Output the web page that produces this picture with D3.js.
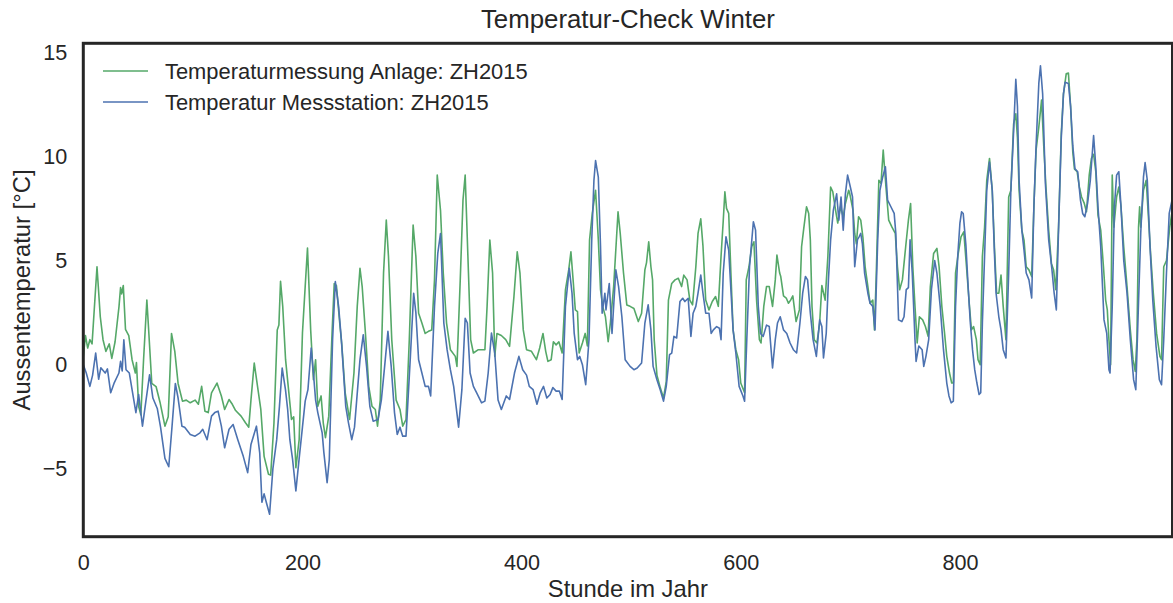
<!DOCTYPE html>
<html>
<head>
<meta charset="utf-8">
<script src="https://cdn.jsdelivr.net/npm/d3@7"></script>
<style>
  body { margin: 0; background: #fff; }
  svg { display: block; font-family: "Liberation Sans", Arial, sans-serif; }
  .tick text { fill: #262626; font-size: 21.6px; }
</style>
</head>
<body>
<svg id="chart" width="1173" height="603"></svg>
<script>
// values (hours, degrees C)
const anlageStunde = [0,2,4,6,8,12.5,15.5,18,20.6,23.7,26,29,32.6,34,35,36.5,38.5,41.5,44.5,47.5,48.5,50.5,52.5,55,58,59.5,62.5,66.4,70,74.5,77.5,80.5,83.5,86.5,90.5,94,97.6,102,105,108,111,114,117,122,126,129,133,136,139,144,148,151,153,156,159,162,165,169,171,174,177,178.5,180,182,184.6,187.6,190,192,194,197,200,202.5,204.6,207.5,210,212,214,217,219,221,224,227,229,231,234,236,239,243,247,250,252.5,254.5,257.5,260.5,263.5,266.5,268.5,271,274,276.5,278.5,281.5,285.5,289,291.5,294.5,297.5,301,303.5,306,309,312,315,318,320.5,323,326,328.5,331.5,335,339.5,341,344,346.5,348.5,351.5,353.5,356,360.5,366.5,368.5,371,373.5,375.5,377.5,381.5,385.5,389,393,396,398.5,401.5,404.5,409,413.5,416.5,419.5,422,424,427,429,431.5,434,437,440,443,445,447,449,451,452.5,455.5,458,460,462,464.5,467.5,470,472,474,476.5,479,481,484,488,490,493,496,499,502.5,506.5,509.5,512.5,514,516,518,519.5,521,523.5,526.5,529.5,532,534,537,540,543,546,548,551,553.5,556,559,561,563.5,565.5,568,571,574,577,579.5,582,584,585.5,587,589,591,593,595.5,598,600,603.5,605,607.5,610,612,614.5,617,618.5,621,623.5,626,629,631.5,633,635.5,636.5,639,641.5,643.5,645.5,647.5,650.5,653.5,655.5,657.5,660,662,663.5,665,667,669.5,672,674,677,679.5,682,684,686.5,688.5,691,693.5,695.5,698.5,699.5,702.5,704,705.5,707.5,709.5,711.5,713.5,716,718,720.5,722,723.5,726,728,730,732.5,735,738,741,743,745,747.5,750.5,753,755,757,759,761,763,766,768.5,771,773,776,779,781,783.5,786,788,790.5,792.5,794,796,798.5,801,803.5,806,808.5,810.5,812.5,815,816.5,818.5,820.5,822.5,824.5,827,829.5,831.5,833.5,835.5,837.5,839.5,842,844.5,846.5,849,851,852.5,854,856.5,858.5,860.5,863,865.5,867.5,869.5,872,874.5,876.5,878.5,881,883.5,885.5,887.5,890,892.5,894.5,897,899,901,903,904.5,907,909,911,913.5,915.5,918,920,922,924,926,928.5,931,933,934.5,936,937.5,939,940.5,943,945,947,949.5,952.5,955.5,958,960,961.5,963,964,965,967.5,970,972,974,976.5,979.5,982.5,984,986,988.5,991.5,994];
const anlageTemp = [0.4,1.4,0.8,1.2,1.0,4.7,2.3,1.2,0.64,1.0,0.3,1.1,2.8,3.7,3.4,3.8,1.7,1.4,0.24,-0.4,0.1,-2.0,-2.4,0.24,3.1,1.8,-0.9,-1.05,-1.8,-2.95,-2.5,1.5,0.64,-0.9,-1.75,-1.7,-1.83,-1.7,-1.9,-1.04,-2.23,-2.3,-1.35,-0.88,-1.5,-2.15,-1.67,-1.9,-2.2,-2.47,-2.79,-3.0,-1.7,0.08,-1.04,-2.15,-4.4,-5.26,-5.3,-2.8,1.67,1.9,4.0,2.8,0.24,-1.35,-2.63,-2.5,-4.95,-3.6,1.52,3.75,5.6,1.67,-0.72,0.24,-2.0,-1.5,-2.8,-3.5,-2.47,1.5,3.9,3.8,2.0,0.9,-1.35,-2.63,-0.4,2.8,4.63,3.75,1.5,-1.04,-2.0,-2.15,-2.95,-1.7,4.4,6.94,5.2,1.2,-1.7,-2.15,-2.95,-2.63,1.2,6.7,5.2,2.47,2.0,1.5,1.6,1.67,4.07,9.1,7.4,4.4,2.0,0.72,0.4,-0.08,4.07,7.9,9.1,4.4,1.2,0.56,0.72,0.72,2.8,5.98,4.4,0.4,1.5,1.4,1.2,0.88,3.27,5.42,4.4,1.67,0.72,0.64,0.24,0.8,1.5,0.64,0.16,0.24,1.1,0.95,1.1,0.56,3.59,4.55,5.42,4.07,2.63,2.55,0.56,1.04,1.5,0.9,5.98,7.26,8.37,6.0,3.6,2.8,2.3,1.1,2.0,3.75,7.34,6.3,4.4,2.87,2.8,2.7,2.07,2.47,4.55,4.9,5.9,4.7,4.07,1.2,-0.5,-1.1,-1.6,-0.8,3.1,3.9,4.07,4.15,3.75,4.3,4.07,3.1,2.87,4.7,6.3,7.0,5.7,3.1,2.63,3.03,3.27,2.8,5.2,6.9,8.3,7.5,7.26,4.4,1.67,0.72,0.24,-0.88,-1.35,4.07,4.7,5.66,5.9,3.03,1.2,1.04,2.8,3.75,3.75,2.8,4.07,5.26,4.4,4.23,3.3,3.2,2.95,3.1,3.3,2.07,2.63,5.66,6.54,7.58,7.26,5.98,2.8,1.2,1.04,2.0,3.8,3.1,5.2,8.53,8.3,7.42,6.8,7.58,7.1,7.74,8.37,8.2,7.4,6.3,5.8,7.1,6.94,6.1,4.7,3.75,2.95,3.1,1.67,4.07,8.85,8.7,10.3,8.53,6.94,6.6,6.3,4.7,3.6,4.07,5.66,6.94,7.74,4.7,2.8,1.04,2.3,2.15,1.83,1.36,3.75,5.34,5.58,4.7,2.8,1.5,0.4,-0.4,-0.88,-0.88,4.4,5.34,6.14,6.38,4.7,2.95,1.67,1.83,1.2,0.24,0.0,5.2,6.6,8.85,9.9,8.37,5.66,3.43,3.43,4.3,2.8,1.2,8.05,8.37,11.56,12.04,10.9,8.37,6.46,5.98,4.7,4.55,4.23,7.58,10.3,11.4,12.7,10.5,8.53,6.46,4.86,4.55,3.6,6.6,11.1,13.0,13.96,14.0,12.4,10.2,9.4,9.26,8.53,8.05,7.74,7.34,9.1,9.9,10.1,9.26,7.18,6.46,4.7,3.1,2.63,1.2,0.0,9.1,6.6,8.05,8.53,7.58,5.66,3.75,1.67,0.24,-0.32,1.2,6.6,7.58,6.6,8.37,8.85,7.1,5.34,3.43,1.5,0.4,0.24,4.7,5.0,6.6,7.5];

const stationStunde = [0,2.7,6,8.5,11.3,14,16,20,22,25,28,32.5,34,35.5,37,39,42,45,48,50.5,54,57,60.5,63.5,67.5,70.5,74.5,78,81,84,86.5,90,92.5,97.6,102,106.5,109,113,117,120,123,126,129,133,136.7,141,146,150,153,158,161,163,165,167,170,173,176.5,179,181.5,184.5,186.5,188.5,191,194,197,200,202.5,205,208,210,212,214,218,219.5,222.5,224.5,227.5,230,233,235.5,237.5,239.5,242,245,247.5,249.5,252.5,255.5,258.5,261.5,264.5,269,272,275,278,281,284,286.5,289,291.5,294.5,298.5,301.5,303.5,306,309,312,315,317,320.5,323.5,326,329,332,335,338,342.5,345.5,348.5,350.5,353,356,359,363.5,366.5,369.5,372.5,375.5,378.5,381.5,386,389,393.5,397.5,401,404.5,407,410.5,414,417,420,423,426,428.5,431.5,434.5,437,440,443.5,446,448,451,453,455.5,458.5,461.5,464,466,467.5,470,472,473.5,476,477,480,482.5,486,488.5,491.5,494.5,499,502.5,505.5,509.5,512.5,515.5,518,520,523.5,526.5,529.5,532,535,537,539,541.5,544.5,547,549,552,554.5,556.5,559,561,563.5,565.5,568,571,573,575,578,580.5,582,584,586.5,589,591,593,595.5,598.5,602,603.5,605.5,608,611.5,613.5,616,618,620.5,623.5,626,629,631.5,633.5,636,639,642,645,648,651,654,656.5,659,661,663.5,666,669,672,674,675.5,678,680,682,684.5,687.5,689.5,691.5,693.5,695.5,697.5,700,702,703,704,706.5,708,709.5,711,713,716,718,720.5,722.5,725,727,729.5,732,734,737,740,741.5,744,747,749,751,753,754.5,756.5,759,760,762.5,765.5,767,769,771.5,774,777,779,782,785,788,790,792,794,796,798,800,801.5,803,805.5,807.5,809.5,811.5,813.5,815.5,817.5,819,820.5,822.5,824.5,827,829.5,831.5,833,835.5,837.5,839.5,842,844.5,846.5,849,851,852.5,854,856.5,858.5,860.5,863,865.5,867.5,869.5,872,873.5,875.5,878,881,884,886,888,890,892.5,894.5,896,899,901,903,905,907.5,910,912,914,916.5,919,922,924,926,928.5,931.5,934,936,937,939,941,943,945,947,949.5,952.5,955.5,958.5,960.5,963,965,967.5,969,971,973.5,976,979,982,984,986,988.5,991,994];
const stationTemp = [0,-0.4,-1.04,-0.5,0.56,-0.7,-0.15,-0.4,-0.2,-1.35,-0.9,-0.4,0.16,-0.3,1.2,-0.24,-0.4,-1.35,-2.3,-1.43,-2.95,-1.8,-0.48,-1.6,-2.1,-3.0,-4.5,-4.9,-2.95,-0.9,-1.6,-2.95,-3.0,-3.35,-3.43,-3.27,-3.1,-3.6,-2.47,-2.3,-2.23,-2.95,-3.99,-3.1,-2.87,-3.6,-4.4,-5.18,-3.83,-2.95,-4.23,-6.6,-6.2,-6.6,-7.18,-5.0,-3.6,-2.0,-0.16,-1.2,-2.15,-3.6,-4.55,-6.06,-4.5,-3.0,-1.75,-1.2,0.8,-0.4,-1.7,-2.3,-3.27,-4.2,-5.66,-4.55,1.2,3.99,2.8,1.2,-0.4,-2.0,-2.79,-3.6,-3.0,-1.7,0.24,1.44,-0.08,-2.0,-2.71,-2.63,-1.7,-0.08,1.6,-0.08,-2.3,-3.35,-3.0,-3.43,-3.43,0.4,3.43,2.5,0.24,-0.4,-1.04,-1.04,-1.5,2.8,5.34,6.3,2.0,0.72,-0.24,-1.04,-3.0,-1.2,2.23,2.0,-0.4,-1.04,-1.35,-1.83,-1.75,-0.4,1.52,0.56,-1.7,-2.15,-1.5,-1.67,-0.4,0.4,-0.24,-0.5,-1.04,-1.2,-1.9,-1.35,-1.04,-1.6,-1.43,-1.1,-1.27,-1.27,-1.67,2.8,4.63,3.43,1.5,0.24,0.4,0.0,-0.96,1.2,5.98,8.85,9.8,9.0,5.7,2.47,3.43,2.63,3.9,1.5,4.55,3.75,2.3,0.24,-0.08,-0.24,-0.16,0.08,2.0,2.87,1.67,-0.08,-0.72,-1.2,-1.75,-1.04,0.48,0.56,1.36,1.28,3.03,3.19,3.03,3.19,1.36,2.47,2.8,3.43,4.3,3.43,2.47,2.47,1.5,1.67,1.83,1.75,1.2,4.4,6.14,5.5,3.6,1.67,0.56,-1.04,-1.5,-1.75,1.2,4.7,6.86,6.46,2.8,1.5,1.36,1.9,1.83,-0.16,1.2,2.0,2.3,1.67,1.5,1.04,0.72,0.56,2.0,3.43,4.23,4.07,2.47,1.2,0.4,2.15,1.83,0.32,1.5,4.07,5.98,7.42,8.2,6.94,8.05,6.46,8.2,9.1,8.53,8.05,6.3,4.7,6.0,6.14,6.3,5.8,4.4,3.43,2.95,2.8,1.67,6.0,8.37,9.0,9.5,7.9,7.58,7.26,6.3,2.15,2.07,2.3,3.6,3.7,6.0,4.4,1.2,0.16,0.9,0.72,-0.08,0.4,1.2,3.6,5.0,4.4,2.8,0.72,-0.88,-1.5,-1.83,-1.75,2.8,5.2,6.8,7.34,7.26,5.7,3.75,2.0,0.72,-0.24,-0.88,-1.43,-1.35,2.0,5.2,8.37,9.73,8.37,5.34,3.43,2.3,1.67,0.72,0.32,4.4,8.37,11.2,13.7,12.4,8.85,6.46,5.5,4.4,4.07,3.2,7.58,10.5,13.5,14.35,13.0,8.7,6.0,4.55,3.43,2.63,6.46,10.9,13.0,13.56,13.5,12.4,10.5,9.4,9.26,7.9,7.26,7.1,7.74,8.85,11.0,9.5,7.58,5.66,2.15,1.5,-0.24,-0.4,2.8,7.58,9.1,9.26,7.58,5.0,3.43,1.2,-0.72,-1.2,3.0,6.3,9.0,9.7,8.85,5.66,3.1,0.88,-0.72,-0.96,1.2,4.4,7.26,8.0];

const xTicks = [0, 200, 400, 600, 800];
const yTicks = [-5, 0, 5, 10, 15];
const legendLabels = ["Temperaturmessung Anlage: ZH2015", "Temperatur Messstation: ZH2015"];
const seriesColors = ["#55a868", "#4c72b0"];

const svg = d3.select("#chart");
const plot = { left: 83.3, top: 43.3, right: 1172.5, bottom: 536.7 };

const anlage = anlageStunde.map((h, i) => ({ h: h, t: anlageTemp[i] }));
const station = stationStunde.map((h, i) => ({ h: h, t: stationTemp[i] }));

// matplotlib-style autoscale: 5% padding around the data
const allTemps = anlageTemp.concat(stationTemp);
const tMin = d3.min(allTemps), tMax = d3.max(allTemps);
const pad = (tMax - tMin) * 0.05;

const x = d3.scaleLinear().domain([0, 994]).range([plot.left, plot.right]);
const y = d3.scaleLinear().domain([tMin - pad, tMax + pad]).range([plot.bottom, plot.top]);

svg.append("defs").append("clipPath")
    .attr("id", "plotClip")
    .append("rect")
    .attr("x", plot.left)
    .attr("y", plot.top)
    .attr("width", plot.right - plot.left)
    .attr("height", plot.bottom - plot.top);

const line = d3.line()
    .x(d => x(d.h))
    .y(d => y(d.t));

const lines = svg.append("g").attr("clip-path", "url(#plotClip)");

[anlage, station].forEach((series, i) => {
    lines.append("path")
        .datum(series)
        .attr("fill", "none")
        .attr("stroke", seriesColors[i])
        .attr("stroke-width", 1.6)
        .attr("stroke-linejoin", "round")
        .attr("d", line);
});

// axes without tick marks, seaborn-white look
const xAxis = svg.append("g")
    .attr("transform", `translate(0,${plot.bottom})`)
    .call(d3.axisBottom(x).tickValues(xTicks).tickSize(0).tickPadding(18));

const yAxis = svg.append("g")
    .attr("transform", `translate(${plot.left},0)`)
    .call(d3.axisLeft(y).tickValues(yTicks).tickSize(0).tickPadding(16));

xAxis.select(".domain").remove();
yAxis.select(".domain").remove();

svg.append("rect")
    .attr("x", plot.left)
    .attr("y", plot.top)
    .attr("width", plot.right - plot.left)
    .attr("height", plot.bottom - plot.top)
    .attr("fill", "none")
    .attr("stroke", "#262626")
    .attr("stroke-width", 3);

// title and axis labels
svg.append("text")
    .attr("x", (plot.left + plot.right) / 2)
    .attr("y", 28)
    .attr("text-anchor", "middle")
    .attr("fill", "#262626")
    .style("font-size", "25.8px")
    .text("Temperatur-Check Winter");

svg.append("text")
    .attr("x", (plot.left + plot.right) / 2)
    .attr("y", 597)
    .attr("text-anchor", "middle")
    .attr("fill", "#262626")
    .style("font-size", "23.8px")
    .text("Stunde im Jahr");

svg.append("text")
    .attr("transform", `translate(30,${(plot.top + plot.bottom) / 2}) rotate(-90)`)
    .attr("text-anchor", "middle")
    .attr("fill", "#262626")
    .style("font-size", "23.8px")
    .text("Aussentemperatur [°C]");

// legend
const legend = svg.append("g");

legendLabels.forEach((label, i) => {
    const ly = 71 + i * 31;
    legend.append("line")
        .attr("x1", 103)
        .attr("x2", 148)
        .attr("y1", ly)
        .attr("y2", ly)
        .attr("stroke", seriesColors[i])
        .attr("stroke-width", 1.6);
    legend.append("text")
        .attr("x", 165)
        .attr("y", ly)
        .attr("dy", "0.35em")
        .attr("fill", "#262626")
        .style("font-size", "21.9px")
        .text(label);
});
</script>
</body>
</html>
